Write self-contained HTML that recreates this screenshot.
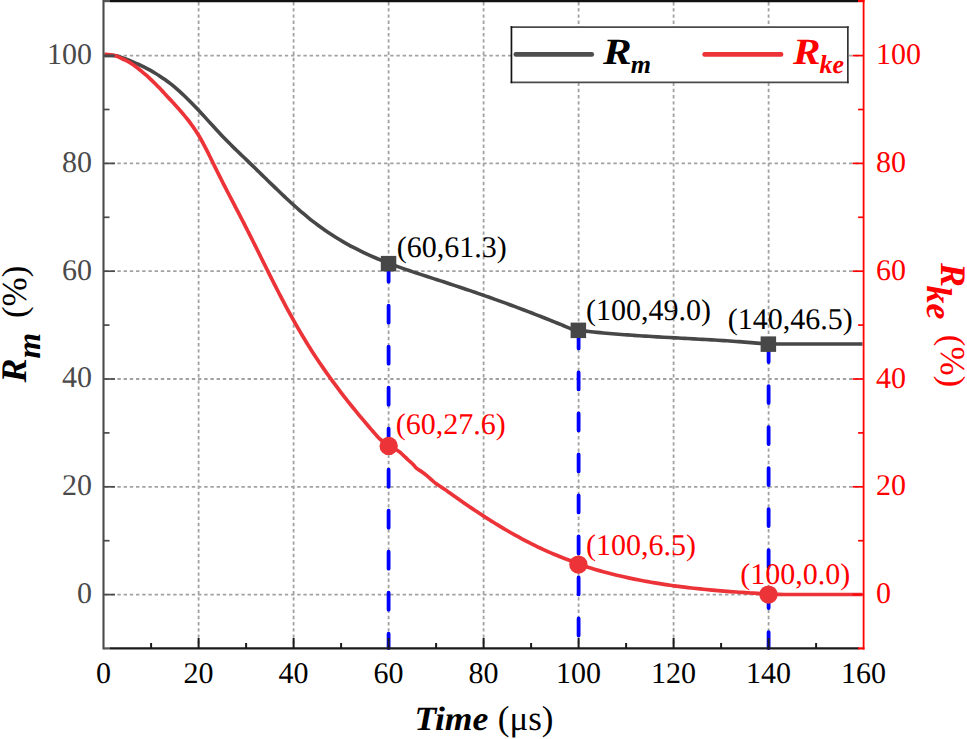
<!DOCTYPE html><html><head><meta charset="utf-8"><style>html,body{margin:0;padding:0;background:#fff;overflow:hidden;}svg{display:block;text-rendering:geometricPrecision;}</style></head><body>
<svg width="967" height="739" viewBox="0 0 967 739">
<rect width="967" height="739" fill="#fff"/>
<g stroke="#a2a2a2" stroke-width="1.8" stroke-dasharray="3.4 2.8" fill="none"><line x1="198.6" y1="2" x2="198.6" y2="647" /><line x1="293.6" y1="2" x2="293.6" y2="647" /><line x1="388.6" y1="2" x2="388.6" y2="647" /><line x1="483.6" y1="2" x2="483.6" y2="647" /><line x1="578.6" y1="2" x2="578.6" y2="647" /><line x1="673.6" y1="2" x2="673.6" y2="647" /><line x1="768.6" y1="2" x2="768.6" y2="647" /><line x1="105" y1="594.6" x2="862" y2="594.6" /><line x1="105" y1="486.8" x2="862" y2="486.8" /><line x1="105" y1="379.0" x2="862" y2="379.0" /><line x1="105" y1="271.2" x2="862" y2="271.2" /><line x1="105" y1="163.4" x2="862" y2="163.4" /><line x1="105" y1="55.6" x2="862" y2="55.6" /></g>
<g stroke="#0000ff" stroke-width="3.8" stroke-dasharray="17 24" stroke-linecap="round" fill="none"><line x1="388.6" y1="264.7" x2="388.6" y2="648" /><line x1="578.6" y1="331.4" x2="578.6" y2="648" /><line x1="768.6" y1="345.1" x2="768.6" y2="648" /></g>
<path d="M104.50,55.60 C105.50,55.56 108.53,55.34 110.51,55.36 C112.49,55.38 114.44,55.33 116.37,55.72 C118.30,56.10 120.18,56.98 122.07,57.66 C123.96,58.34 125.84,59.05 127.72,59.79 C129.59,60.52 131.45,61.27 133.31,62.06 C135.16,62.84 137.00,63.65 138.83,64.49 C140.65,65.34 142.47,66.21 144.26,67.11 C146.06,68.02 147.84,68.95 149.60,69.92 C151.36,70.89 153.11,71.90 154.83,72.93 C156.55,73.97 158.26,75.04 159.94,76.15 C161.62,77.25 163.28,78.39 164.91,79.56 C166.55,80.73 168.18,81.92 169.77,83.15 C171.36,84.38 172.92,85.65 174.46,86.94 C176.00,88.23 177.52,89.55 179.02,90.89 C180.52,92.23 182.00,93.60 183.46,94.98 C184.93,96.35 186.38,97.75 187.81,99.16 C189.24,100.57 190.66,102.00 192.07,103.44 C193.47,104.88 194.87,106.33 196.25,107.79 C197.63,109.25 199.01,110.72 200.37,112.20 C201.74,113.67 203.10,115.16 204.46,116.64 C205.81,118.13 207.16,119.62 208.52,121.11 C209.87,122.59 211.22,124.08 212.58,125.57 C213.93,127.06 215.29,128.54 216.65,130.02 C218.02,131.50 219.39,132.97 220.77,134.44 C222.15,135.90 223.54,137.36 224.94,138.80 C226.34,140.24 227.75,141.68 229.17,143.10 C230.59,144.53 232.02,145.94 233.46,147.35 C234.90,148.75 236.34,150.15 237.79,151.55 C239.24,152.95 240.69,154.34 242.15,155.73 C243.60,157.12 245.06,158.51 246.51,159.90 C247.96,161.29 249.41,162.68 250.86,164.08 C252.31,165.48 253.75,166.88 255.19,168.28 C256.64,169.68 258.08,171.09 259.52,172.49 C260.96,173.89 262.40,175.30 263.84,176.70 C265.28,178.11 266.72,179.51 268.16,180.92 C269.60,182.32 271.04,183.72 272.49,185.12 C273.94,186.52 275.38,187.92 276.83,189.31 C278.28,190.70 279.74,192.09 281.20,193.48 C282.66,194.86 284.12,196.25 285.59,197.62 C287.06,198.99 288.53,200.36 290.01,201.72 C291.49,203.09 292.98,204.44 294.48,205.78 C295.98,207.12 297.48,208.46 299.00,209.78 C300.51,211.11 302.03,212.42 303.57,213.72 C305.10,215.02 306.65,216.31 308.21,217.58 C309.76,218.86 311.33,220.12 312.92,221.36 C314.50,222.59 316.10,223.81 317.72,225.02 C319.33,226.22 320.95,227.40 322.59,228.57 C324.23,229.74 325.88,230.88 327.55,232.01 C329.22,233.14 330.89,234.25 332.59,235.34 C334.28,236.43 335.98,237.50 337.70,238.54 C339.41,239.59 341.14,240.62 342.88,241.63 C344.62,242.65 346.37,243.64 348.13,244.61 C349.89,245.58 351.67,246.53 353.45,247.46 C355.23,248.40 357.02,249.31 358.82,250.21 C360.63,251.10 362.44,251.98 364.25,252.84 C366.07,253.70 367.90,254.54 369.74,255.36 C371.57,256.19 373.41,256.99 375.26,257.78 C377.11,258.57 378.97,259.35 380.83,260.11 C382.69,260.87 384.56,261.61 386.44,262.35 C388.31,263.08 390.19,263.80 392.07,264.50 C393.96,265.21 395.85,265.90 397.74,266.59 C399.63,267.27 401.53,267.94 403.42,268.61 C405.32,269.27 407.23,269.92 409.13,270.57 C411.03,271.22 412.94,271.86 414.85,272.49 C416.76,273.13 418.67,273.76 420.58,274.38 C422.49,275.01 424.41,275.63 426.32,276.25 C428.24,276.87 430.15,277.49 432.06,278.11 C433.98,278.72 435.89,279.34 437.81,279.96 C439.72,280.58 441.64,281.20 443.55,281.82 C445.46,282.45 447.37,283.07 449.28,283.70 C451.19,284.33 453.10,284.96 455.01,285.60 C456.92,286.23 458.83,286.87 460.74,287.51 C462.65,288.15 464.55,288.79 466.46,289.43 C468.36,290.08 470.27,290.73 472.17,291.38 C474.07,292.03 475.98,292.68 477.88,293.34 C479.78,294.00 481.68,294.66 483.58,295.32 C485.48,295.98 487.38,296.65 489.27,297.32 C491.17,297.99 493.07,298.66 494.96,299.34 C496.86,300.01 498.75,300.69 500.64,301.37 C502.53,302.06 504.42,302.74 506.31,303.43 C508.20,304.12 510.09,304.82 511.98,305.51 C513.87,306.21 515.75,306.91 517.64,307.62 C519.52,308.32 521.40,309.03 523.29,309.74 C525.17,310.45 527.05,311.17 528.93,311.89 C530.81,312.61 532.68,313.33 534.56,314.06 C536.43,314.78 538.31,315.51 540.18,316.25 C542.05,316.98 543.92,317.72 545.79,318.47 C547.66,319.21 549.53,319.96 551.40,320.71 C553.26,321.46 555.13,322.22 556.99,322.97 C558.85,323.73 560.71,324.50 562.57,325.27 C564.43,326.03 566.29,326.81 568.15,327.58 C570.00,328.36 571.84,329.26 573.71,329.92 C575.58,330.59 577.42,331.40 579.36,331.59 C581.30,331.79 583.36,331.08 585.36,331.11 C587.36,331.13 589.36,331.55 591.36,331.76 C593.36,331.96 595.36,332.17 597.36,332.36 C599.36,332.56 601.37,332.75 603.37,332.94 C605.37,333.12 607.38,333.30 609.38,333.47 C611.38,333.65 613.39,333.82 615.39,333.98 C617.40,334.14 619.40,334.30 621.41,334.46 C623.42,334.61 625.42,334.76 627.43,334.91 C629.43,335.05 631.44,335.20 633.45,335.33 C635.45,335.47 637.46,335.61 639.47,335.74 C641.48,335.87 643.48,336.00 645.49,336.13 C647.50,336.25 649.51,336.38 651.52,336.50 C653.52,336.62 655.53,336.74 657.54,336.85 C659.55,336.97 661.56,337.09 663.57,337.20 C665.57,337.31 667.58,337.43 669.59,337.54 C671.60,337.65 673.61,337.76 675.62,337.87 C677.63,337.98 679.63,338.09 681.64,338.20 C683.65,338.31 685.66,338.42 687.67,338.53 C689.68,338.64 691.69,338.75 693.70,338.86 C695.70,338.97 697.71,339.08 699.72,339.19 C701.73,339.30 703.74,339.42 705.75,339.53 C707.75,339.65 709.76,339.77 711.77,339.89 C713.78,340.01 715.79,340.13 717.80,340.25 C719.80,340.38 721.81,340.50 723.82,340.63 C725.83,340.76 727.83,340.89 729.84,341.03 C731.85,341.17 733.85,341.31 735.86,341.45 C737.87,341.59 739.87,341.74 741.88,341.89 C743.89,342.04 745.89,342.20 747.90,342.36 C749.90,342.52 751.91,342.68 753.91,342.85 C755.92,343.02 757.92,343.22 759.92,343.38 C761.93,343.54 763.93,343.72 765.94,343.81 C767.95,343.89 769.96,343.86 771.97,343.89 C773.99,343.92 776.00,343.95 778.01,343.97 C780.02,343.99 782.03,344.00 784.04,344.00 C786.06,344.00 788.07,344.00 790.08,344.00 C792.09,344.00 794.10,344.00 796.11,344.00 C798.13,344.00 800.14,344.00 802.15,344.00 C804.16,344.00 806.17,344.00 808.18,344.00 C810.20,344.00 812.21,344.00 814.22,344.00 C816.23,344.00 818.24,344.00 820.25,344.00 C822.27,344.00 824.28,344.00 826.29,344.00 C828.30,344.00 830.31,344.00 832.32,344.00 C834.34,344.00 836.35,344.00 838.36,344.00 C840.37,344.00 842.38,344.00 844.39,344.00 C846.41,344.00 848.42,344.00 850.43,344.00 C852.44,344.00 854.45,344.00 856.46,344.00 C858.48,344.00 861.49,344.00 862.50,344.00" fill="none" stroke="#474747" stroke-width="3.6" stroke-linejoin="round"/>
<path d="M104.50,54.40 C105.50,54.45 108.54,54.43 110.51,54.72 C112.48,55.00 114.44,55.45 116.31,56.11 C118.19,56.77 119.95,57.82 121.78,58.66 C123.60,59.49 125.51,60.19 127.28,61.12 C129.05,62.04 130.74,63.12 132.41,64.23 C134.07,65.35 135.66,66.60 137.25,67.82 C138.84,69.04 140.42,70.29 141.96,71.57 C143.51,72.85 145.04,74.16 146.54,75.49 C148.04,76.82 149.52,78.19 150.98,79.57 C152.44,80.95 153.88,82.35 155.30,83.77 C156.72,85.19 158.12,86.64 159.51,88.09 C160.90,89.54 162.27,91.01 163.64,92.47 C165.01,93.94 166.37,95.42 167.73,96.90 C169.09,98.38 170.45,99.85 171.81,101.34 C173.17,102.82 174.53,104.30 175.87,105.79 C177.22,107.28 178.57,108.77 179.89,110.28 C181.22,111.79 182.53,113.31 183.82,114.85 C185.11,116.39 186.39,117.94 187.64,119.51 C188.88,121.09 190.09,122.69 191.28,124.32 C192.46,125.94 193.61,127.59 194.72,129.26 C195.84,130.93 196.92,132.63 197.97,134.34 C199.02,136.05 200.04,137.78 201.03,139.53 C202.02,141.27 202.99,143.04 203.93,144.81 C204.88,146.58 205.80,148.37 206.71,150.16 C207.62,151.95 208.51,153.75 209.39,155.55 C210.28,157.36 211.16,159.17 212.04,160.97 C212.92,162.78 213.79,164.58 214.68,166.39 C215.57,168.19 216.46,169.99 217.35,171.79 C218.25,173.59 219.15,175.38 220.06,177.18 C220.96,178.97 221.87,180.76 222.78,182.55 C223.70,184.34 224.62,186.13 225.53,187.91 C226.45,189.70 227.38,191.48 228.30,193.27 C229.22,195.05 230.15,196.84 231.08,198.62 C232.00,200.40 232.93,202.18 233.86,203.97 C234.79,205.75 235.71,207.53 236.64,209.31 C237.57,211.09 238.50,212.88 239.42,214.66 C240.35,216.44 241.27,218.23 242.19,220.01 C243.11,221.80 244.03,223.58 244.95,225.37 C245.86,227.16 246.78,228.95 247.69,230.74 C248.60,232.53 249.50,234.32 250.41,236.12 C251.31,237.91 252.21,239.71 253.11,241.51 C254.01,243.30 254.91,245.10 255.80,246.90 C256.70,248.70 257.59,250.50 258.48,252.30 C259.38,254.10 260.27,255.90 261.16,257.70 C262.05,259.50 262.94,261.30 263.84,263.10 C264.73,264.90 265.62,266.70 266.52,268.49 C267.41,270.29 268.31,272.09 269.21,273.89 C270.11,275.69 271.01,277.48 271.91,279.28 C272.81,281.07 273.72,282.86 274.63,284.66 C275.54,286.45 276.45,288.24 277.37,290.02 C278.28,291.81 279.20,293.60 280.13,295.38 C281.05,297.16 281.98,298.95 282.92,300.72 C283.86,302.50 284.80,304.28 285.74,306.05 C286.69,307.82 287.64,309.59 288.60,311.36 C289.56,313.12 290.52,314.88 291.50,316.64 C292.47,318.40 293.45,320.15 294.43,321.90 C295.42,323.65 296.41,325.40 297.42,327.14 C298.42,328.88 299.43,330.62 300.45,332.35 C301.46,334.08 302.49,335.81 303.53,337.53 C304.56,339.25 305.60,340.97 306.66,342.68 C307.71,344.39 308.77,346.10 309.84,347.80 C310.91,349.50 311.99,351.19 313.08,352.88 C314.17,354.57 315.27,356.25 316.38,357.93 C317.49,359.60 318.60,361.27 319.73,362.94 C320.86,364.60 321.99,366.26 323.13,367.91 C324.28,369.56 325.43,371.21 326.59,372.85 C327.75,374.49 328.92,376.12 330.09,377.75 C331.27,379.38 332.45,381.00 333.64,382.62 C334.84,384.24 336.04,385.85 337.24,387.46 C338.45,389.06 339.66,390.67 340.88,392.26 C342.10,393.86 343.33,395.45 344.56,397.03 C345.79,398.62 347.03,400.20 348.28,401.78 C349.53,403.35 350.78,404.92 352.04,406.48 C353.30,408.05 354.57,409.61 355.84,411.16 C357.12,412.72 358.40,414.27 359.68,415.81 C360.97,417.36 362.26,418.90 363.55,420.43 C364.85,421.97 366.15,423.50 367.45,425.02 C368.76,426.55 370.07,428.07 371.39,429.59 C372.71,431.11 374.01,432.64 375.36,434.13 C376.70,435.62 377.99,437.17 379.45,438.54 C380.91,439.91 382.56,441.09 384.12,442.34 C385.69,443.60 387.16,445.00 388.85,446.07 C390.53,447.14 392.49,447.79 394.25,448.74 C396.00,449.70 397.77,450.64 399.38,451.83 C400.98,453.01 402.40,454.47 403.88,455.83 C405.36,457.19 406.77,458.64 408.24,459.99 C409.71,461.34 411.28,462.54 412.69,463.94 C414.09,465.33 415.17,467.07 416.68,468.35 C418.19,469.64 420.09,470.49 421.73,471.65 C423.36,472.81 424.95,474.03 426.50,475.31 C428.05,476.58 429.52,477.96 431.02,479.29 C432.53,480.62 433.95,482.11 435.52,483.30 C437.09,484.49 438.81,485.35 440.45,486.43 C442.10,487.51 443.76,488.63 445.40,489.78 C447.04,490.93 448.65,492.14 450.28,493.31 C451.92,494.48 453.55,495.65 455.19,496.81 C456.83,497.97 458.47,499.13 460.12,500.28 C461.77,501.43 463.42,502.58 465.07,503.72 C466.72,504.86 468.38,505.99 470.04,507.12 C471.70,508.25 473.37,509.37 475.05,510.48 C476.72,511.60 478.39,512.70 480.08,513.80 C481.76,514.90 483.44,516.00 485.13,517.08 C486.82,518.17 488.52,519.24 490.22,520.31 C491.92,521.39 493.62,522.45 495.33,523.50 C497.05,524.56 498.76,525.60 500.48,526.64 C502.20,527.67 503.93,528.70 505.66,529.72 C507.40,530.73 509.14,531.74 510.88,532.73 C512.63,533.73 514.38,534.71 516.14,535.68 C517.89,536.66 519.66,537.62 521.43,538.57 C523.20,539.52 524.97,540.46 526.75,541.39 C528.54,542.32 530.33,543.23 532.12,544.13 C533.92,545.03 535.72,545.92 537.53,546.80 C539.34,547.67 541.15,548.53 542.97,549.38 C544.80,550.22 546.63,551.05 548.46,551.87 C550.30,552.68 552.14,553.48 553.99,554.26 C555.84,555.04 557.70,555.80 559.57,556.55 C561.44,557.29 563.31,558.02 565.19,558.72 C567.07,559.43 568.96,560.12 570.85,560.79 C572.75,561.45 574.68,562.01 576.56,562.73 C578.43,563.45 580.24,564.35 582.10,565.09 C583.96,565.83 585.84,566.54 587.74,567.18 C589.64,567.83 591.58,568.37 593.50,568.94 C595.43,569.51 597.36,570.07 599.29,570.61 C601.23,571.16 603.16,571.69 605.10,572.21 C607.04,572.73 608.99,573.24 610.93,573.74 C612.88,574.24 614.83,574.72 616.78,575.19 C618.74,575.66 620.69,576.12 622.65,576.57 C624.61,577.02 626.57,577.46 628.53,577.88 C630.50,578.31 632.46,578.72 634.43,579.13 C636.40,579.53 638.37,579.92 640.34,580.30 C642.31,580.68 644.29,581.05 646.27,581.41 C648.24,581.77 650.22,582.12 652.20,582.46 C654.18,582.80 656.16,583.13 658.15,583.45 C660.13,583.77 662.11,584.09 664.10,584.39 C666.09,584.69 668.07,584.98 670.06,585.26 C672.05,585.55 674.04,585.82 676.03,586.09 C678.02,586.36 680.02,586.61 682.01,586.86 C684.00,587.11 686.00,587.36 687.99,587.59 C689.99,587.83 691.98,588.05 693.98,588.27 C695.98,588.49 697.98,588.71 699.97,588.91 C701.97,589.12 703.97,589.32 705.97,589.51 C707.97,589.71 709.97,589.89 711.97,590.08 C713.97,590.26 715.97,590.43 717.98,590.61 C719.98,590.78 721.98,590.94 723.98,591.10 C725.99,591.26 727.99,591.42 729.99,591.57 C732.00,591.72 734.00,591.87 736.00,592.01 C738.01,592.16 740.01,592.30 742.02,592.43 C744.02,592.57 746.02,592.70 748.03,592.83 C750.03,592.96 752.04,593.09 754.04,593.21 C756.05,593.34 758.05,593.47 760.06,593.58 C762.07,593.70 764.07,593.81 766.08,593.91 C768.08,594.01 770.09,594.08 772.10,594.17 C774.11,594.25 776.11,594.36 778.12,594.42 C780.13,594.48 782.14,594.49 784.15,594.50 C786.16,594.51 788.17,594.50 790.17,594.50 C792.18,594.50 794.19,594.50 796.20,594.50 C798.21,594.50 800.22,594.50 802.23,594.50 C804.24,594.50 806.25,594.50 808.26,594.50 C810.26,594.50 812.27,594.50 814.28,594.50 C816.29,594.50 818.30,594.50 820.31,594.50 C822.32,594.50 824.33,594.50 826.34,594.50 C828.35,594.50 830.36,594.50 832.36,594.50 C834.37,594.50 836.38,594.50 838.39,594.50 C840.40,594.50 842.41,594.50 844.42,594.50 C846.43,594.50 848.44,594.50 850.45,594.50 C852.45,594.50 854.46,594.50 856.47,594.50 C858.48,594.50 861.50,594.50 862.50,594.50" fill="none" stroke="#ec3338" stroke-width="3.7" stroke-linejoin="round"/>
<line x1="104.5" y1="55.9" x2="114" y2="55.9" stroke="#474747" stroke-width="2.6"/>
<rect x="380.8" y="255.9" width="15.5" height="15.5" fill="#474747"/>
<rect x="570.6" y="322.6" width="15.5" height="15.5" fill="#474747"/>
<rect x="760.6" y="336.4" width="15.5" height="15.5" fill="#474747"/>
<circle cx="388.7" cy="445.9" r="9.2" fill="#ec3338"/>
<circle cx="578.4" cy="564.6" r="9.2" fill="#ec3338"/>
<circle cx="768.5" cy="594.6" r="9.2" fill="#ec3338"/>
<g stroke="#4a4a4a" stroke-width="1.7"><line x1="104" y1="594.6" x2="115.0" y2="594.6"/><line x1="104" y1="540.7" x2="109.5" y2="540.7"/><line x1="104" y1="486.8" x2="115.0" y2="486.8"/><line x1="104" y1="432.9" x2="109.5" y2="432.9"/><line x1="104" y1="379.0" x2="115.0" y2="379.0"/><line x1="104" y1="325.1" x2="109.5" y2="325.1"/><line x1="104" y1="271.2" x2="115.0" y2="271.2"/><line x1="104" y1="217.3" x2="109.5" y2="217.3"/><line x1="104" y1="163.4" x2="115.0" y2="163.4"/><line x1="104" y1="109.5" x2="109.5" y2="109.5"/><line x1="104" y1="55.6" x2="115.0" y2="55.6"/></g>
<line x1="103.5" y1="0" x2="103.5" y2="649.5" stroke="#4a4a4a" stroke-width="2.1"/>
<g stroke="#1a1a1a" stroke-width="2"><line x1="151.1" y1="648" x2="151.1" y2="643.0"/><line x1="198.6" y1="648" x2="198.6" y2="638.0"/><line x1="246.1" y1="648" x2="246.1" y2="643.0"/><line x1="293.6" y1="648" x2="293.6" y2="638.0"/><line x1="341.1" y1="648" x2="341.1" y2="643.0"/><line x1="388.6" y1="648" x2="388.6" y2="638.0"/><line x1="436.1" y1="648" x2="436.1" y2="643.0"/><line x1="483.6" y1="648" x2="483.6" y2="638.0"/><line x1="531.1" y1="648" x2="531.1" y2="643.0"/><line x1="578.6" y1="648" x2="578.6" y2="638.0"/><line x1="626.1" y1="648" x2="626.1" y2="643.0"/><line x1="673.6" y1="648" x2="673.6" y2="638.0"/><line x1="721.1" y1="648" x2="721.1" y2="643.0"/><line x1="768.6" y1="648" x2="768.6" y2="638.0"/><line x1="816.1" y1="648" x2="816.1" y2="643.0"/></g>
<line x1="110" y1="648.4" x2="859" y2="648.4" stroke="#1a1a1a" stroke-width="2.2"/>
<line x1="104" y1="648.4" x2="110" y2="648.4" stroke="#555" stroke-width="2.2"/>
<line x1="110" y1="1.1" x2="858" y2="1.1" stroke="#111" stroke-width="2.2"/>
<line x1="104" y1="1.1" x2="110" y2="1.1" stroke="#555" stroke-width="2.2"/>
<g stroke="#ff0000" stroke-width="1.7"><line x1="863.6" y1="594.6" x2="852.6" y2="594.6"/><line x1="863.6" y1="540.7" x2="858.1" y2="540.7"/><line x1="863.6" y1="486.8" x2="852.6" y2="486.8"/><line x1="863.6" y1="432.9" x2="858.1" y2="432.9"/><line x1="863.6" y1="379.0" x2="852.6" y2="379.0"/><line x1="863.6" y1="325.1" x2="858.1" y2="325.1"/><line x1="863.6" y1="271.2" x2="852.6" y2="271.2"/><line x1="863.6" y1="217.3" x2="858.1" y2="217.3"/><line x1="863.6" y1="163.4" x2="852.6" y2="163.4"/><line x1="863.6" y1="109.5" x2="858.1" y2="109.5"/><line x1="863.6" y1="55.6" x2="852.6" y2="55.6"/></g>
<line x1="863.6" y1="0" x2="863.6" y2="649.5" stroke="#ff0000" stroke-width="1.8"/>
<line x1="858" y1="648.4" x2="864.5" y2="648.4" stroke="#ff0000" stroke-width="2.2"/>
<line x1="858" y1="1.1" x2="864.5" y2="1.1" stroke="#ff0000" stroke-width="2.2"/>
<rect x="511.4" y="27.1" width="336.5" height="55.2" fill="#fff"/>
<line x1="515.8" y1="54.4" x2="591.8" y2="54.4" stroke="#4e4e4e" stroke-width="4.6" stroke-linecap="round"/>
<line x1="704.6" y1="54.4" x2="781.1" y2="54.4" stroke="#ec3338" stroke-width="4.6" stroke-linecap="round"/>
<g stroke-width="1.7"><line x1="510.6" y1="27.1" x2="848.7" y2="27.1" stroke="#4a4a4a"/><line x1="510.6" y1="82.4" x2="848.7" y2="82.4" stroke="#4a4a4a"/><line x1="511.45" y1="26.2" x2="511.45" y2="83.2" stroke="#151515"/><line x1="847.85" y1="26.2" x2="847.85" y2="83.2" stroke="#333"/></g>
<text font-family="'Liberation Serif', serif" font-weight="bold" font-style="italic" fill="#000"><tspan x="603" y="63.7" font-size="37" textLength="28.7" lengthAdjust="spacingAndGlyphs">R</tspan><tspan x="630.7" y="73.4" font-size="26">m</tspan></text>
<text font-family="'Liberation Serif', serif" font-weight="bold" font-style="italic" fill="#ff0000"><tspan x="793" y="63.7" font-size="37" textLength="27.5" lengthAdjust="spacingAndGlyphs">R</tspan><tspan x="819.4" y="73.4" font-size="26">ke</tspan></text>
<g font-family="'Liberation Serif', serif" font-size="30" fill="#4a4a4a"><text x="92" y="602.9" text-anchor="end">0</text><text x="92" y="495.1" text-anchor="end">20</text><text x="92" y="387.3" text-anchor="end">40</text><text x="92" y="279.5" text-anchor="end">60</text><text x="92" y="171.7" text-anchor="end">80</text><text x="92" y="63.9" text-anchor="end">100</text></g>
<g font-family="'Liberation Serif', serif" font-size="30" fill="#ff0000"><text x="876" y="603.2">0</text><text x="876" y="495.4">20</text><text x="876" y="387.6">40</text><text x="876" y="279.8">60</text><text x="876" y="172.0">80</text><text x="876" y="64.2">100</text></g>
<g font-family="'Liberation Serif', serif" font-size="30" fill="#000"><text x="103.6" y="683" text-anchor="middle">0</text><text x="198.6" y="683" text-anchor="middle">20</text><text x="293.6" y="683" text-anchor="middle">40</text><text x="388.6" y="683" text-anchor="middle">60</text><text x="483.6" y="683" text-anchor="middle">80</text><text x="578.6" y="683" text-anchor="middle">100</text><text x="673.6" y="683" text-anchor="middle">120</text><text x="768.6" y="683" text-anchor="middle">140</text><text x="863.6" y="683" text-anchor="middle">160</text></g>
<text font-family="'Liberation Serif', serif" font-size="30" x="396.7" y="256.5" fill="#000">(60,61.3)</text>
<text font-family="'Liberation Serif', serif" font-size="30" x="585.9" y="319.6" fill="#000">(100,49.0)</text>
<text font-family="'Liberation Serif', serif" font-size="30" x="727.7" y="328.5" fill="#000">(140,46.5)</text>
<text font-family="'Liberation Serif', serif" font-size="30" x="395.8" y="433.5" fill="#ff0000">(60,27.6)</text>
<text font-family="'Liberation Serif', serif" font-size="30" x="585.9" y="555.3" fill="#ff0000">(100,6.5)</text>
<text font-family="'Liberation Serif', serif" font-size="30" x="740.3" y="583.8" fill="#ff0000">(100,0.0)</text>
<text font-family="'Liberation Serif', serif" font-size="35" x="414.5" y="730.2" fill="#000"><tspan font-weight="bold" font-style="italic" font-size="34" textLength="73.9" lengthAdjust="spacingAndGlyphs">Time</tspan><tspan dx="0.6"> (μs)</tspan></text>
<text font-family="'Liberation Serif', serif" fill="#000" transform="translate(26,382.5) rotate(-90)"><tspan x="0" y="0" font-size="36" font-weight="bold" font-style="italic">R</tspan><tspan y="13.8" font-size="33" font-weight="bold" font-style="italic">m</tspan><tspan y="0" font-size="35" dx="6"> (%)</tspan></text>
<text font-family="'Liberation Serif', serif" fill="#ff0000" transform="translate(941.4,263) rotate(90)"><tspan x="0" y="0" font-size="36" font-weight="bold" font-style="italic">R</tspan><tspan y="14.1" dx="-1.5" font-size="36" font-weight="bold" font-style="italic">ke</tspan><tspan y="0" dx="6.5" font-size="35"> (%)</tspan></text>
</svg></body></html>
